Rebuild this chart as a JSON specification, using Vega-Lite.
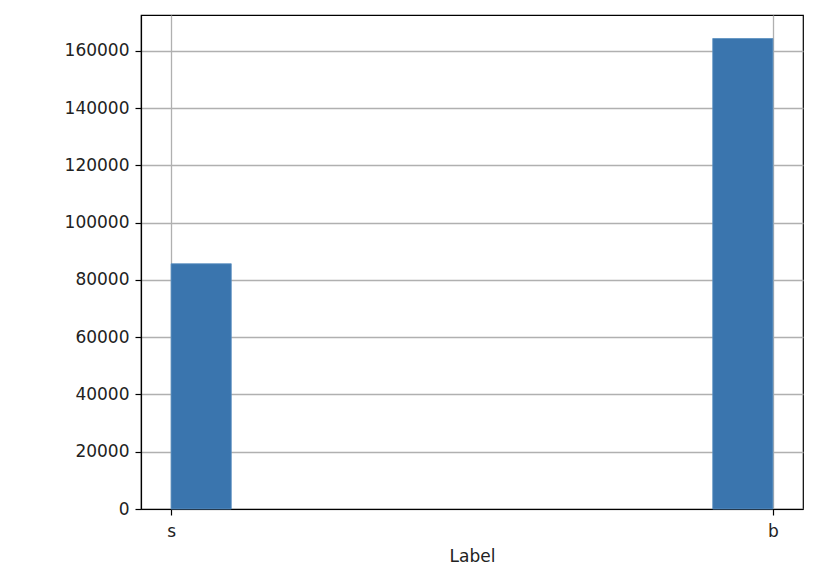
{
  "$schema": "https://vega.github.io/schema/vega-lite/v6.json",
  "autosize": "none",
  "width": 662,
  "height": 494,
  "padding": {"left": 141, "top": 15, "right": 21, "bottom": 73},
  "background": "white",
  "config": {
    "view": {"stroke": "black", "strokeWidth": 1.2},
    "font": "DejaVu Sans",
    "axis": {
      "labelFont": "DejaVu Sans",
      "titleFont": "DejaVu Sans",
      "labelFontSize": 17,
      "titleFontSize": 17,
      "titleFontWeight": "normal",
      "labelColor": "#222222",
      "titleColor": "#222222",
      "domainColor": "black",
      "domainWidth": 1.2,
      "tickColor": "black",
      "tickWidth": 1.2,
      "tickSize": 6,
      "gridColor": "#b0b0b0",
      "gridWidth": 1.3,
      "zindex": 1
    }
  },
  "data": {
    "values": [
      {"label": "s", "bin_start": 0.0, "bin_end": 0.1, "count": 85667},
      {"label": "b", "bin_start": 0.9, "bin_end": 1.0, "count": 164333}
    ]
  },
  "mark": {"type": "bar", "color": "#3a75ae", "stroke": "#5a8fc0", "strokeWidth": 0.8},
  "encoding": {
    "x": {
      "field": "bin_start",
      "type": "quantitative",
      "scale": {"domain": [-0.05, 1.05], "nice": false, "zero": false},
      "axis": {
        "values": [0, 1],
        "labelExpr": "datum.value == 0 ? 's' : 'b'",
        "title": "Label",
        "titlePadding": 9,
        "labelPadding": 8,
        "grid": true
      }
    },
    "x2": {"field": "bin_end"},
    "y": {
      "field": "count",
      "type": "quantitative",
      "scale": {"domain": [0, 172549.65], "nice": false},
      "axis": {
        "values": [0, 20000, 40000, 60000, 80000, 100000, 120000, 140000, 160000],
        "format": "d",
        "title": null,
        "labelPadding": 6,
        "grid": true
      }
    },
    "y2": {"datum": 0}
  }
}
